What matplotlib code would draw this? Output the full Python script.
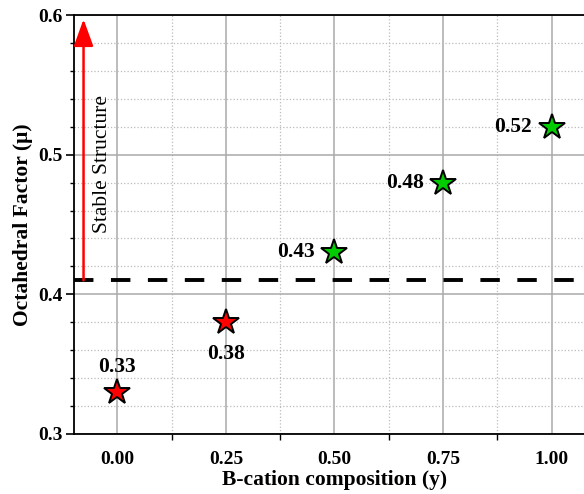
import matplotlib
matplotlib.use("Agg")
import matplotlib.pyplot as plt
from matplotlib.ticker import MultipleLocator

comp = [0.00, 0.25, 0.50, 0.75, 1.00]
mu = [0.33, 0.38, 0.43, 0.48, 0.52]
colors = ["#ff0000", "#ff0000", "#00cc00", "#00cc00", "#00cc00"]
labels = ["0.33", "0.38", "0.43", "0.48", "0.52"]
xticks = [0.00, 0.25, 0.50, 0.75, 1.00]
xticklabels = ["0.00", "0.25", "0.50", "0.75", "1.00"]
yticks = [0.3, 0.4, 0.5, 0.6]
threshold = 0.41

plt.rcParams['font.family'] = ['Liberation Serif', 'DejaVu Serif']

fig = plt.figure(figsize=(5.84, 4.94), dpi=100)
ax = fig.add_axes([0.1267, 0.1215, 0.892, 0.848])
ax.set_xlim(-0.1, 1.1)
ax.set_ylim(0.3, 0.6)

ax.set_xticks(xticks)
ax.set_xticklabels(xticklabels)
ax.set_yticks(yticks)
ax.set_yticklabels([f"{v:.1f}" for v in yticks])
ax.xaxis.set_minor_locator(MultipleLocator(0.125))
ax.yaxis.set_minor_locator(MultipleLocator(0.02))

ax.grid(which='major', color='#aaaaaa', linewidth=1.1, linestyle='-')
ax.grid(which='minor', color='#bbbbbb', linewidth=0.9, linestyle=':')
ax.set_axisbelow(True)

ax.tick_params(axis='x', which='major', length=0, labelsize=14, pad=12)
ax.tick_params(axis='x', which='minor', length=4, width=1, direction='out')
ax.tick_params(axis='y', which='major', length=6, width=1.2, labelsize=14, direction='out', pad=2)
ax.tick_params(axis='y', which='minor', length=3, width=1, direction='out')
for lab in ax.get_xticklabels() + ax.get_yticklabels():
    lab.set_fontweight('bold')

for s in ['left', 'bottom', 'top']:
    ax.spines[s].set_linewidth(1.3)
ax.spines['right'].set_visible(False)

ax.axhline(threshold, color='black', linestyle=(0, (5, 4.5)), linewidth=2.8, zorder=3)

ax.annotate('', xy=(-0.078, 0.597), xytext=(-0.078, threshold),
            arrowprops=dict(arrowstyle='-|>,head_length=1.1,head_width=0.4',
                            color='red', lw=1.8, shrinkA=0, shrinkB=0,
                            mutation_scale=15), zorder=4)
ax.text(-0.035, 0.493, 'Stable Structure', rotation=90, ha='center', va='center',
        fontsize=15.5)

for x, y, c in zip(comp, mu, colors):
    ax.plot(x, y, marker='*', markersize=19, markerfacecolor=c,
            markeredgecolor='black', markeredgewidth=1.4, linestyle='none', zorder=5)

offsets = [(0, 11, 'center', 'bottom'), (0, -16, 'center', 'top'),
           (-14, 0, 'right', 'center'), (-14, 0, 'right', 'center'),
           (-14, 0, 'right', 'center')]
for x, y, t, (dx, dy, ha, va) in zip(comp, mu, labels, offsets):
    ax.annotate(t, (x, y), xytext=(dx, dy), textcoords='offset points',
                ha=ha, va=va, fontsize=15.5, fontweight='bold')

ax.set_xlabel('B-cation composition (y)', fontsize=15.5, fontweight='bold', labelpad=2)
ax.set_ylabel('Octahedral Factor (μ)', fontsize=15.5, fontweight='bold', labelpad=4)

fig.savefig('out.png', dpi=100)
